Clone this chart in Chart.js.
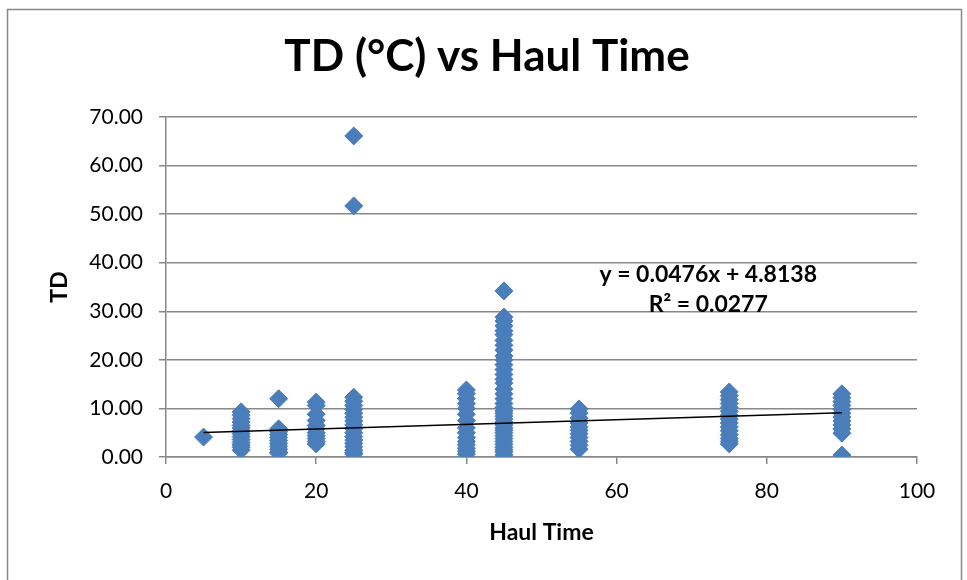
<!DOCTYPE html>
<html>
<head>
<meta charset="utf-8">
<script src="https://cdn.jsdelivr.net/npm/chart.js@4.4.0/dist/chart.umd.min.js"></script>
<style>
  html, body { margin: 0; padding: 0; background: #ffffff; }
  #wrap { position: relative; width: 967px; height: 580px; }
</style>
</head>
<body>
<div id="wrap"><canvas id="c" width="967" height="580"></canvas></div>
<script>
// ---- data ----
const chartTitle = 'TD (°C) vs Haul Time';
const xTitle = 'Haul Time';
const yTitle = 'TD';
const haulTimes = [5, 10, 15, 20, 25, 40, 45, 55, 75, 90];
const td5  = [4.1];
const td10 = [9.3, 8.6, 7.9, 7.2, 6.5, 6.0, 5.4, 4.8, 4.2, 3.6, 3.0, 2.5, 2.0, 1.4];
const td15 = [12.0, 5.8, 5.2, 4.6, 4.0, 3.4, 2.8, 2.2, 1.6, 1.0, 0.8];
const td20 = [11.3, 10.6, 8.8, 7.5, 6.5, 5.8, 5.0, 4.4, 3.8, 3.2, 2.7];
const td25 = [66.1, 51.7, 12.3, 11.5, 10.6, 9.8, 9.0, 8.2, 7.4, 6.6, 5.8, 5.0, 4.2, 3.5, 2.8, 2.1, 1.4, 0.9, 0.6];
const td40 = [13.8, 13.0, 12.0, 11.0, 10.0, 8.8, 7.5, 6.0, 5.0, 4.0, 3.2, 2.5, 1.8, 1.2, 0.6];
const td45 = [34.2, 28.8, 28.0, 27.0, 26.0, 25.2, 24.0, 23.0, 22.0, 20.8, 20.0, 19.0, 18.0, 17.0, 16.0, 15.2,
              14.0, 13.0, 12.0, 11.0, 10.2, 9.5, 9.0, 8.4, 7.8, 7.2, 6.6, 6.0, 5.5, 5.0, 4.4, 3.8, 3.2, 2.6,
              2.0, 1.5, 1.0, 0.4];
const td55 = [9.9, 9.0, 8.0, 7.0, 6.2, 5.5, 4.8, 4.0, 3.2, 2.4, 1.6];
const td75 = [13.4, 12.6, 11.8, 11.0, 10.2, 9.4, 8.6, 7.8, 7.0, 6.2, 5.4, 4.6, 3.8, 3.2, 2.7];
const td90 = [13.0, 12.2, 11.4, 10.6, 9.8, 9.0, 8.2, 7.4, 6.6, 5.8, 4.9, 0.4];
const tdColumns = [td5, td10, td15, td20, td25, td40, td45, td55, td75, td90];
// linear trendline as labelled in the chart
const trendX = [5, 90];
const trendY = [5.05, 9.10];
const equationLines = ['y = 0.0476x + 4.8138', 'R² = 0.0277'];
const yTicks = [0, 10, 20, 30, 40, 50, 60, 70];
const xTicks = [0, 20, 40, 60, 80, 100];

// ---- build datasets ----
const points = [];
haulTimes.forEach((h, i) => tdColumns[i].forEach(v => points.push({x: h, y: v})));
const trendPoints = trendX.map((x, i) => ({x: x, y: trendY[i]}));

const FONT = 'Lato, "Open Sans", "DejaVu Sans", sans-serif';
const GRID = '#888888';

const frame = {
  id: 'frame',
  beforeDraw(chart) {
    const ctx = chart.ctx;
    ctx.save();
    ctx.fillStyle = '#ffffff';
    ctx.fillRect(0, 0, chart.width, chart.height);
    ctx.strokeStyle = '#888888';
    ctx.lineWidth = 1.5;
    ctx.strokeRect(7.5, 9.5, 954, 620);
    ctx.fillStyle = '#000000';
    ctx.font = 'bold 44px ' + FONT;
    ctx.textAlign = 'center';
    ctx.textBaseline = 'middle';
    ctx.fillText(chartTitle, 487, 57);
    ctx.restore();
  },
  afterDatasetsDraw(chart) {
    const ctx = chart.ctx;
    const xs = chart.scales.x, ys = chart.scales.y;
    ctx.save();
    ctx.fillStyle = '#000000';
    ctx.font = 'bold 23px ' + FONT;
    ctx.textAlign = 'center';
    ctx.textBaseline = 'middle';
    ctx.fillText(equationLines[0], xs.getPixelForValue(72.2), ys.getPixelForValue(37.6));
    ctx.fillText(equationLines[1], xs.getPixelForValue(72.2), ys.getPixelForValue(31.4));
    ctx.restore();
  }
};

new Chart(document.getElementById('c'), {
  type: 'scatter',
  data: {
    datasets: [
      {
        label: 'TD',
        data: points,
        pointStyle: 'rectRot',
        pointRadius: 9,
        pointHoverRadius: 9,
        backgroundColor: '#4a7ebb',
        borderColor: '#4a7ebb',
        borderWidth: 1,
        order: 2
      },
      {
        label: 'Linear (TD)',
        data: trendPoints,
        showLine: true,
        pointRadius: 0,
        borderColor: '#000000',
        borderWidth: 1.5,
        order: 1
      }
    ]
  },
  options: {
    responsive: false,
    animation: false,
    events: [],
    layout: { padding: { left: 0, right: 50, top: 117, bottom: 0 } },
    plugins: {
      legend: { display: false },
      tooltip: { enabled: false },
      title: { display: false }
    },
    scales: {
      x: {
        type: 'linear',
        min: 0, max: 100,
        afterBuildTicks(axis) { axis.ticks = xTicks.map(v => ({value: v})); },
        afterFit(axis) { axis.height = 123; },
        grid: { display: true, drawOnChartArea: false, drawTicks: true, tickLength: 7, color: GRID, lineWidth: 1.5 },
        border: { display: true, color: GRID, width: 1.5 },
        ticks: { color: '#000000', font: { family: FONT, size: 21 }, padding: 15, maxRotation: 0 },
        title: { display: true, text: xTitle, color: '#000000', font: { family: FONT, size: 23, weight: 'bold' }, padding: { top: 0, bottom: 34 } }
      },
      y: {
        type: 'linear',
        min: 0, max: 70,
        afterBuildTicks(axis) { axis.ticks = yTicks.map(v => ({value: v})); },
        afterFit(axis) { axis.width = 166; },
        grid: { display: true, drawOnChartArea: true, drawTicks: true, tickLength: 7, color: GRID, lineWidth: 1.5 },
        border: { display: true, color: GRID, width: 1.5 },
        ticks: { color: '#000000', font: { family: FONT, size: 21 }, padding: 16, callback: v => Number(v).toFixed(2) },
        title: { display: true, text: yTitle, color: '#000000', font: { family: FONT, size: 23, weight: 'bold' }, padding: { top: 46, bottom: 0 } }
      }
    }
  },
  plugins: [frame]
});
</script>
</body>
</html>
